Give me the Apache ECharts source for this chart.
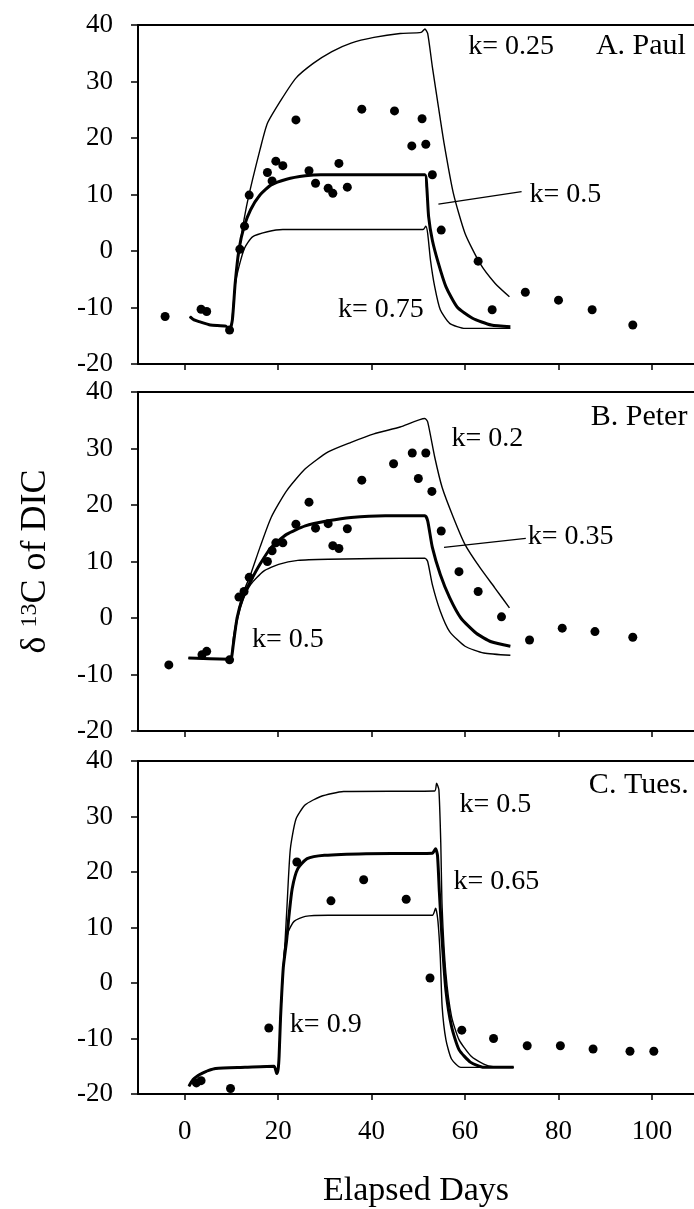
<!DOCTYPE html>
<html>
<head>
<meta charset="utf-8">
<script src="https://cdn.jsdelivr.net/npm/echarts@6/dist/echarts.min.js"></script>
<style>html,body{margin:0;padding:0;background:#fff}#c{width:694px;height:1209px}</style>
</head>
<body>
<div id="c"></div>
<script>
// ---------- data ----------
const xTicks = [0, 20, 40, 60, 80, 100];
const panelNames = ['A. Paul', 'B. Peter', 'C. Tues.'];

// Panel A (Paul) observed points [day, d13C]
const paulObs = [[-4.2,-11.6],[3.5,-10.3],[4.7,-10.7],[9.6,-14.0],[11.8,0.3],[12.8,4.4],[13.8,9.9],[17.7,13.9],[18.7,12.4],[19.5,15.9],[21.0,15.1],[23.8,23.2],[26.6,14.2],[28.0,12.0],[30.7,11.1],[31.7,10.2],[33.0,15.5],[34.8,11.3],[37.9,25.1],[44.9,24.8],[48.6,18.6],[50.8,23.4],[51.6,18.9],[53.0,13.5],[54.9,3.7],[62.8,-1.8],[65.8,-10.4],[72.9,-7.3],[80.0,-8.7],[87.2,-10.4],[95.9,-13.1]];
const paulK025 = [[1.1,-11.6],[2.0,-12.2],[3.1,-12.5],[5.5,-13.1],[8.8,-13.3],[9.6,-14.0],[10.0,-13.2],[10.6,-7.5],[11.2,-2.8],[12.2,3.1],[13.2,7.8],[14.5,12.6],[16.1,17.9],[17.7,22.6],[20.6,26.7],[23.8,30.6],[27.5,33.2],[31.5,35.3],[35.6,36.8],[40.5,37.8],[46.1,38.5],[50.6,38.7],[51.4,39.3],[52.0,38.5],[53.0,32.6],[54.3,25.5],[55.5,19.1],[57.5,10.2],[60.0,3.1],[63.2,-2.2],[66.4,-5.7],[69.5,-8.1]];
const paulK05 = [[1.1,-11.6],[2.0,-12.2],[3.1,-12.5],[5.5,-13.1],[8.8,-13.3],[9.6,-14.0],[10.2,-12.2],[10.8,-5.7],[11.6,0.2],[12.7,4.3],[14.1,7.3],[16.1,9.9],[18.5,11.7],[21.8,12.7],[25.8,13.3],[29.1,13.5],[38.8,13.5],[51.4,13.5],[51.8,11.4],[52.2,6.1],[53.0,1.9],[54.3,-2.2],[55.9,-6.3],[58.3,-9.9],[61.6,-11.9],[65.6,-13.1],[69.7,-13.4]];
const paulK075 = [[1.1,-11.6],[2.0,-12.2],[3.1,-12.5],[5.5,-13.1],[8.8,-13.3],[9.6,-14.0],[10.2,-12.2],[10.8,-6.0],[11.6,-2.8],[12.8,0.5],[14.5,2.5],[17.7,3.4],[21.0,3.8],[30.7,3.8],[51.0,3.8],[51.6,4.4],[52.0,3.1],[52.6,-1.6],[53.5,-6.3],[54.7,-10.4],[56.7,-12.8],[60.0,-13.7],[69.7,-13.7]];

// Panel B (Peter)
const peterObs = [[-3.4,-8.3],[3.7,-6.5],[4.7,-5.9],[9.6,-7.4],[11.6,3.7],[12.7,4.7],[13.8,7.2],[17.7,10.0],[18.7,11.9],[19.5,13.3],[21.0,13.3],[23.8,16.6],[26.6,20.5],[28.0,15.9],[30.7,16.7],[31.7,12.8],[33.0,12.3],[34.8,15.8],[37.9,24.4],[44.7,27.3],[48.7,29.2],[50.0,24.7],[51.6,29.2],[52.9,22.4],[54.9,15.4],[58.7,8.2],[62.8,4.7],[67.8,0.2],[73.8,-3.9],[80.8,-1.8],[87.8,-2.4],[95.9,-3.4]];
const peterK02 = [[0.8,-7.1],[9.6,-7.3],[10.0,-7.1],[10.4,-3.6],[11.2,0.0],[12.4,4.2],[14.1,7.7],[16.1,12.5],[18.5,17.8],[21.8,22.5],[25.8,26.4],[30.7,29.4],[35.6,31.1],[40.5,32.6],[46.1,33.8],[51.4,35.3],[52.0,34.7],[53.5,28.5],[55.1,23.1],[57.5,17.8],[60.0,13.0],[63.2,8.9],[66.4,5.3],[69.5,1.8]];
const peterK035 = [[0.8,-7.1],[9.6,-7.3],[10.0,-7.1],[10.4,-4.7],[11.2,0.0],[12.4,3.6],[14.1,6.5],[16.1,9.5],[18.5,12.5],[21.8,14.8],[25.8,16.3],[30.7,17.2],[35.6,17.8],[42.9,18.1],[51.4,18.1],[52.0,17.2],[53.0,12.5],[54.7,7.7],[56.7,3.6],[59.1,0.0],[62.4,-2.7],[65.6,-4.2],[69.7,-5.0]];
const peterK05 = [[0.8,-7.1],[9.6,-7.3],[10.0,-7.1],[10.4,-4.7],[11.2,-0.6],[12.4,3.0],[14.1,5.9],[16.9,8.3],[20.1,9.5],[24.2,10.2],[30.7,10.4],[51.4,10.6],[52.0,10.0],[53.0,5.9],[54.7,1.2],[56.7,-2.4],[60.0,-5.0],[64.0,-6.2],[69.7,-6.6]];

// Panel C (Tuesday)
const tuesObs = [[2.5,-18.0],[3.5,-17.6],[9.8,-19.0],[18.0,-8.1],[24.0,21.8],[31.3,14.8],[38.3,18.6],[47.4,15.1],[52.5,0.9],[59.3,-8.5],[66.1,-10.0],[73.3,-11.3],[80.4,-11.3],[87.4,-11.9],[95.3,-12.3],[100.4,-12.3]];
const tuesK05 = [[0.9,-18.6],[1.8,-17.4],[2.8,-16.7],[3.7,-16.3],[5.0,-15.8],[6.6,-15.4],[12.9,-15.2],[19.1,-15.0],[19.7,-16.3],[20.0,-15.5],[20.2,-13.2],[20.5,-6.4],[21.1,2.8],[21.4,6.4],[21.9,14.0],[22.6,24.1],[23.8,29.5],[25.8,32.1],[29.1,33.6],[34.0,34.5],[53.5,34.6],[53.9,36.0],[54.4,34.8],[54.8,25.3],[55.1,13.5],[55.9,1.7],[57.1,-6.0],[58.7,-10.2],[61.2,-13.1],[64.0,-14.6],[66.0,-15.1],[70.4,-15.2]];
const tuesK065 = [[0.9,-18.6],[1.8,-17.4],[2.8,-16.7],[3.7,-16.3],[5.0,-15.8],[6.6,-15.4],[12.9,-15.2],[19.1,-15.0],[19.7,-16.3],[20.0,-15.5],[20.2,-13.2],[20.5,-6.4],[21.1,2.8],[21.8,7.6],[22.3,12.0],[23.0,17.0],[24.2,20.6],[26.2,22.4],[29.9,23.0],[38.8,23.3],[53.0,23.4],[53.7,24.2],[54.1,23.0],[54.5,16.4],[55.1,7.6],[55.9,-1.3],[57.1,-7.8],[58.7,-12.0],[61.2,-14.3],[64.0,-15.2],[70.4,-15.2]];
const tuesK09 = [[0.9,-18.6],[1.8,-17.4],[2.8,-16.7],[3.7,-16.3],[5.0,-15.8],[6.6,-15.4],[12.9,-15.2],[19.1,-15.0],[19.7,-16.3],[20.0,-15.5],[20.2,-13.2],[20.5,-6.4],[21.1,2.8],[21.4,6.4],[22.2,9.3],[23.4,11.1],[25.8,12.0],[30.7,12.2],[53.0,12.2],[53.7,13.5],[54.2,11.1],[54.7,4.6],[55.1,-4.3],[55.9,-10.2],[57.1,-13.7],[59.1,-15.2],[70.4,-15.2]];

// annotation labels: [day, value, text] per panel
const labelsA = [[60.7,36.2,'k= 0.25'],[88.0,36.2,'A. Paul'],[73.8,9.9,'k= 0.5'],[32.8,-10.4,'k= 0.75']];
const labelsB = [[86.9,35.6,'B. Peter'],[57.1,31.7,'k= 0.2'],[73.4,14.4,'k= 0.35'],[14.4,-3.9,'k= 0.5']];
const labelsC = [[86.5,35.7,'C. Tues.'],[58.8,32.1,'k= 0.5'],[57.5,18.2,'k= 0.65'],[22.5,-7.5,'k= 0.9']];
// leader lines
const leaderA = [[54.3,8.3],[72.1,10.5]];
const leaderB = [[55.5,12.5],[73.0,14.1]];

// ---------- chart ----------
const FONT = 'Liberation Serif';
const grids = [
  {left:138, right:0, top:25, height:339},
  {left:138, right:0, top:392, height:339},
  {left:138, right:0, top:761, height:338}
];
const xAxes = [], yAxes = [];
for (let i = 0; i < 3; i++) {
  xAxes.push({
    gridIndex:i, type:'value', min:-10, max:109, position:'bottom',
    axisLine:{show:true, onZero:false, lineStyle:{color:'#000', width:2}},
    axisTick:{show:true, customValues:xTicks, length:6, lineStyle:{color:'#000', width:1.5}},
    axisLabel:{show:i===2, customValues:xTicks, margin:24, color:'#000', fontFamily:FONT, fontSize:27},
    splitLine:{show:false},
    name: i===2 ? 'Elapsed Days' : '', nameLocation:'middle', nameGap:80,
    nameTextStyle:{color:'#000', fontFamily:FONT, fontSize:34}
  });
  xAxes.push({
    gridIndex:i, type:'value', min:-10, max:109, position:'top',
    axisLine:{show:true, onZero:false, lineStyle:{color:'#000', width:2}},
    axisTick:{show:false}, axisLabel:{show:false}, splitLine:{show:false}
  });
  yAxes.push({
    gridIndex:i, type:'value', min:-20, max:40, interval:10,
    axisLine:{show:true, onZero:false, lineStyle:{color:'#000', width:2}},
    axisTick:{show:true, length:7, lineStyle:{color:'#000', width:1.5}},
    axisLabel:{margin:25, color:'#000', fontFamily:FONT, fontSize:27},
    splitLine:{show:false},
    name: i===1 ? '{b|δ }{s|13}{b|C of DIC}' : '',
    nameLocation:'middle', nameGap:84, nameRotate:90,
    nameTextStyle:{color:'#000', fontFamily:FONT, fontSize:36,
      rich:{b:{fontFamily:FONT, fontSize:36, color:'#000'}, s:{fontFamily:FONT, fontSize:24, color:'#000', verticalAlign:'top', padding:[0,0,10,0]}}}
  });
}

function lineSeries(data, gi, width, smooth) {
  return {type:'line', xAxisIndex:gi*2, yAxisIndex:gi, data:data, showSymbol:false, symbol:'none',
    smooth: smooth ? 0.2 : false,
    lineStyle:{color:'#000', width:width, opacity:1}, silent:true, z:2};
}
function obsSeries(data, gi) {
  return {type:'scatter', xAxisIndex:gi*2, yAxisIndex:gi, data:data, symbol:'circle', symbolSize:9,
    itemStyle:{color:'#000', opacity:1}, silent:true, z:3};
}
function labelSeries(arr, gi) {
  return {type:'scatter', xAxisIndex:gi*2, yAxisIndex:gi, symbolSize:0, silent:true, z:4,
    itemStyle:{opacity:1},
    data: arr.map(a => ({value:[a[0], a[1]], name:a[2],
      label:{show:true, position:'right', distance:0, formatter:a[2], color:'#000', opacity:1, fontFamily:FONT,
        fontSize: a[2].startsWith('k') ? 28 : 30}}))};
}

const series = [
  lineSeries(paulK025, 0, 1.4, true), lineSeries(paulK05, 0, 3, true), lineSeries(paulK075, 0, 1.4, true),
  obsSeries(paulObs, 0), lineSeries(leaderA, 0, 1.2, false), labelSeries(labelsA, 0),
  lineSeries(peterK02, 1, 1.4, true), lineSeries(peterK035, 1, 3, true), lineSeries(peterK05, 1, 1.4, true),
  obsSeries(peterObs, 1), lineSeries(leaderB, 1, 1.2, false), labelSeries(labelsB, 1),
  lineSeries(tuesK05, 2, 1.4, true), lineSeries(tuesK065, 2, 3, true), lineSeries(tuesK09, 2, 1.4, true),
  obsSeries(tuesObs, 2), labelSeries(labelsC, 2)
];

const chart = echarts.init(document.getElementById('c'), null, {renderer:'canvas'});
chart.setOption({
  animation:false, backgroundColor:'#fff',
  grid:grids, xAxis:xAxes, yAxis:yAxes, series:series
});
</script>
</body>
</html>
